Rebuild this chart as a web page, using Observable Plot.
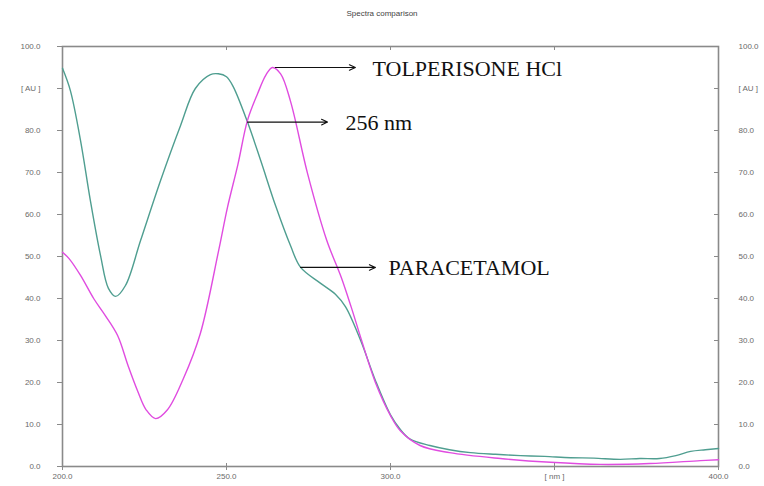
<!DOCTYPE html>
<html>
<head>
<meta charset="utf-8">
<script src="https://cdn.jsdelivr.net/npm/d3@7"></script>
<script src="https://cdn.jsdelivr.net/npm/@observablehq/plot@0.6"></script>
<style>
  html, body { margin: 0; padding: 0; background: #fff; }
  #wrap { position: relative; width: 764px; height: 486px; }
  #title { position: absolute; top: 9px; left: 0; width: 764px; text-align: center;
           font: 8px "Liberation Sans", Arial, sans-serif; color: #444; }
</style>
</head>
<body>
<div id="wrap"><div id="title">Spectra comparison</div></div>
<script>
// Paracetamol spectrum (teal)
const paraNm = [200, 202.4, 205.5, 208.5, 211.6, 214, 216.2, 219.2, 223.8, 229.9, 236, 240.5, 245.1, 247.5, 250, 252, 256.4, 260.4, 265, 269.5, 272.6, 278.7, 283.2, 286.3, 290.9, 295.4, 300, 303, 306, 312, 318, 324.4, 332, 339.6, 347, 354.9, 362, 370, 376, 382, 387, 391.5, 396, 400];
const paraAU = [94.8, 89.5, 77.6, 63.3, 50.2, 42.4, 40.5, 43.1, 53.8, 68.1, 81.2, 90, 93.3, 93.5, 92.8, 90.5, 82, 72.9, 62, 52.6, 47.4, 43.6, 41, 38, 30, 20.5, 12.3, 8.8, 6.5, 5, 4, 3.3, 2.9, 2.6, 2.4, 2.1, 2.0, 1.7, 1.9, 1.9, 2.6, 3.6, 4.0, 4.3];

// Tolperisone HCl spectrum (magenta)
const tolNm = [200, 202, 205.5, 209.5, 213, 216.8, 220, 222.9, 225.5, 228.4, 232, 236.9, 242, 247.6, 250.3, 253.5, 256.4, 259.5, 262, 264, 266.5, 269.5, 274.7, 280.5, 285, 288, 291, 295.4, 300, 303, 309, 318, 333.5, 348.8, 364, 379, 394.5, 400];
const tolAU = [51, 49.5, 45.5, 40, 36, 31.2, 24, 18, 13.5, 11.4, 13.5, 21, 31.6, 51.4, 61.7, 72, 82.4, 88.8, 93.2, 95, 93.5, 87, 69.8, 54, 45, 38, 30.5, 20, 12.1, 8.5, 5, 3.3, 1.9, 1, 0.5, 0.7, 1.4, 1.6];

// Axis ticks
const xTicks = [200, 250, 300, 350, 400];
const xTickLabels = ["200.0", "250.0", "300.0", "[ nm ]", "400.0"];
const yTicks = [0, 10, 20, 30, 40, 50, 60, 70, 80, 90, 100];
const yTickLabels = ["0.0", "10.0", "20.0", "30.0", "40.0", "50.0", "60.0", "70.0", "80.0", "[ AU ]", "100.0"];

// Annotations: anchor point on curve, arrow end wavelength, label
const annLabels = ["TOLPERISONE HCl", "256 nm", "PARACETAMOL"];
const annFromNm = [264.9, 256.4, 272.6];
const annAU = [95, 82, 47.4];
const annToNm = [289.3, 280.8, 295.4];
const annTextNm = [294.5, 286.3, 299.4];

const para = paraNm.map((x, i) => ({x, y: paraAU[i]}));
const tol = tolNm.map((x, i) => ({x, y: tolAU[i]}));
const ann = annLabels.map((t, i) => ({t, x1: annFromNm[i], x2: annToNm[i], xt: annTextNm[i], y: annAU[i]}));

const xFmt = d => xTickLabels[xTicks.indexOf(d)];
const yFmt = d => yTickLabels[yTicks.indexOf(d)];
const axisCol = "#8a8a8a";
const labelCol = "#6a6a6a";

const chart = Plot.plot({
  width: 764,
  height: 486,
  marginTop: 46,
  marginBottom: 20,
  marginLeft: 62,
  marginRight: 46,
  style: {fontFamily: "'Liberation Sans', Arial, sans-serif", fontSize: "8px", background: "transparent"},
  x: {domain: [200, 400]},
  y: {domain: [0, 100]},
  marks: [
    Plot.frame({stroke: axisCol, strokeWidth: 1.6}),
    Plot.axisX({anchor: "bottom", ticks: xTicks, tickFormat: xFmt, tickSize: 4, tickPadding: 3, label: null, color: labelCol, stroke: axisCol}),
    Plot.axisX({anchor: "bottom", ticks: xTicks, text: null, tickSize: 3, dy: -3, stroke: axisCol}),
    Plot.axisX({anchor: "top", ticks: xTicks, text: null, tickSize: 3, dy: 3, label: null, stroke: axisCol}),
    Plot.axisY({anchor: "left", ticks: yTicks, tickFormat: yFmt, tickSize: 5, tickPadding: 17, label: null, color: labelCol, stroke: axisCol}),
    Plot.axisY({anchor: "right", ticks: yTicks, tickFormat: yFmt, tickSize: 0, tickPadding: 20, label: null, color: labelCol, textAnchor: "start"}),
    Plot.axisY({anchor: "right", ticks: yTicks, text: null, tickSize: 5, dx: -5, label: null, stroke: axisCol}),
    Plot.line(para, {x: "x", y: "y", stroke: "#4f9e90", strokeWidth: 1.4, curve: "catmull-rom"}),
    Plot.line(tol, {x: "x", y: "y", stroke: "#e04ce0", strokeWidth: 1.4, curve: "catmull-rom"}),
    Plot.arrow(ann, {x1: "x1", y1: "y", x2: "x2", y2: "y", stroke: "#111", strokeWidth: 1.1, headLength: 9, headAngle: 50}),
    Plot.text(ann, {x: "xt", y: "y", text: "t", textAnchor: "start", fill: "#111", fontSize: 22, fontFamily: "'Liberation Serif', 'Times New Roman', serif", dy: 1})
  ]
});
document.getElementById("wrap").appendChild(chart);
chart.style.position = "absolute";
chart.style.top = "0";
chart.style.left = "0";
</script>
</body>
</html>
